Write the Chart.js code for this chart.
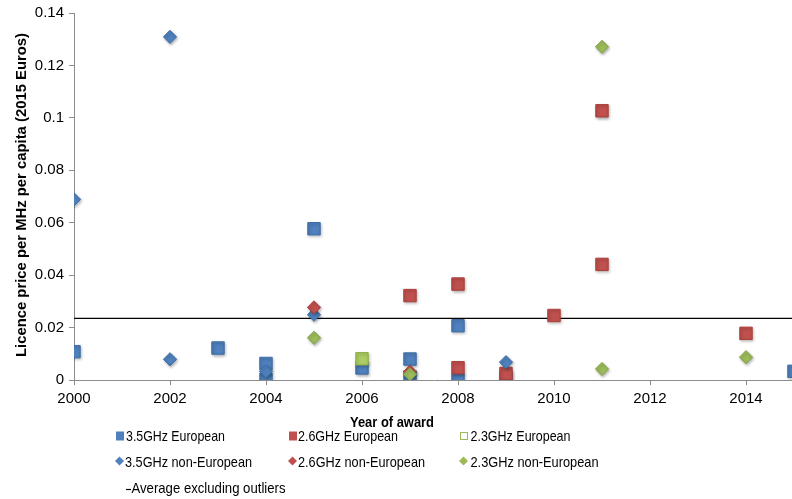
<!DOCTYPE html>
<html>
<head>
<meta charset="utf-8">
<script src="https://cdn.jsdelivr.net/npm/chart.js@4/dist/chart.umd.min.js"></script>
<style>
  html, body { margin: 0; padding: 0; background: #fff; overflow: hidden; }
  #wrap { width: 800px; height: 499px; position: relative; }
</style>
</head>
<body>
<div id="wrap"><canvas id="c"></canvas></div>
<script>
// Licence prices per MHz per capita (2015 Euros), by year of award
const eu35Years     = [2000, 2003, 2004, 2004, 2005, 2006, 2007, 2007, 2008, 2008, 2009, 2015];
const eu35Prices    = [0.0108, 0.0122, 0.0063, 0.0002, 0.0577, 0.0046, 0.0080, 0.0012, 0.0207, 0.0000, 0.0010, 0.0033];

const eu26Years     = [2007, 2008, 2008, 2009, 2010, 2011, 2011, 2014];
const eu26Prices    = [0.0322, 0.0366, 0.0047, 0.0025, 0.0246, 0.1027, 0.0441, 0.0178];

const eu23Years     = [2006];
const eu23Prices    = [0.0081];

const nonEu35Years  = [2000, 2002, 2002, 2004, 2005, 2009];
const nonEu35Prices = [0.0689, 0.1309, 0.0079, 0.0033, 0.0249, 0.0068];

const nonEu26Years  = [2005, 2007];
const nonEu26Prices = [0.0277, 0.0032];

const nonEu23Years  = [2005, 2007, 2011, 2011, 2014];
const nonEu23Prices = [0.0161, 0.0022, 0.1271, 0.0042, 0.0087];

// Average excluding outliers, drawn across the whole period
const avgYears  = [2000, 2015];
const avgPrices = [0.0235, 0.0235];

const seriesNames = ['3.5GHz European', '2.6GHz European', '2.3GHz European',
                     '3.5GHz non-European', '2.6GHz non-European', '2.3GHz non-European'];
const averageName = 'Average excluding outliers';

const yTickLabels = ['0', '0.02', '0.04', '0.06', '0.08', '0.1', '0.12', '0.14'];
const xTickLabels = ['2000', '2002', '2004', '2006', '2008', '2010', '2012', '2014'];

const yTitle = 'Licence price per MHz per capita (2015 Euros)';
const xTitle = 'Year of award';

const BLUE = '#4f81bd', RED = '#c0504d', GREEN = '#9bbb59', LIGHT_GREEN = '#abcd62';
const FONT = '"Liberation Sans", Arial, sans-serif';

function points(xs, ys) { return xs.map((x, i) => ({ x: x, y: ys[i] })); }

function squareSet(label, xs, ys, fill, edge, order) {
  return { label, data: points(xs, ys), pointStyle: 'rect', pointRadius: 8.8,
           backgroundColor: fill, borderColor: edge, borderWidth: 1, order };
}
function diamondSet(label, xs, ys, fill, edge, order) {
  return { label, data: points(xs, ys), pointStyle: 'rectRot', pointRadius: 6.6,
           backgroundColor: fill, borderColor: edge, borderWidth: 1, order };
}

// Soft drop shadow under the markers
const markerShadow = {
  id: 'markerShadow',
  beforeDatasetDraw(chart, args) {
    if (args.meta._dataset.showLine) return;
    const ctx = chart.ctx;
    ctx.save();
    ctx.shadowColor = 'rgba(0,0,0,0.30)';
    ctx.shadowBlur = 3;
    ctx.shadowOffsetX = 1;
    ctx.shadowOffsetY = 1.5;
  },
  afterDatasetDraw(chart, args) {
    if (args.meta._dataset.showLine) return;
    chart.ctx.restore();
  }
};

// Axis titles and the three-column legend below the plot
const annotations = {
  id: 'annotations',
  afterDraw(chart) {
    const ctx = chart.ctx;
    ctx.save();
    ctx.fillStyle = '#000';
    ctx.textBaseline = 'middle';

    // y axis title
    ctx.font = 'bold 15px ' + FONT;
    ctx.save();
    ctx.translate(22, 195);
    ctx.rotate(-Math.PI / 2);
    ctx.textAlign = 'center';
    ctx.fillText(yTitle, 0, 0, 324);
    ctx.restore();

    // x axis title
    ctx.textAlign = 'center';
    ctx.fillText(xTitle, 392, 423, 84);

    // legend
    ctx.font = '15px ' + FONT;
    ctx.textAlign = 'left';
    const markX = [120, 293, 464];
    const textX = [126, 298, 470.5];
    const widths = [[99, 100, 100], [127, 127, 128]];
    const rowY = [437, 463];
    const fills = [BLUE, RED, GREEN];
    for (let col = 0; col < 3; col++) {
      // squares: European series
      const sx = markX[col], sy = 436;
      if (col === 2) {
        ctx.fillStyle = '#fff';
        ctx.fillRect(sx - 4, sy - 4, 8, 8);
        ctx.strokeStyle = GREEN;
        ctx.lineWidth = 1;
        ctx.strokeRect(sx - 3.5, sy - 3.5, 7, 7);
      } else {
        ctx.fillStyle = fills[col];
        ctx.fillRect(sx - 4, sy - 4.5, 8, 9);
      }
      ctx.fillStyle = '#000';
      ctx.fillText(seriesNames[col], textX[col], rowY[0], widths[0][col]);

      // diamonds: non-European series
      const dx = markX[col] - 0.5, dy = 461;
      ctx.fillStyle = fills[col];
      ctx.beginPath();
      ctx.moveTo(dx, dy - 4.5);
      ctx.lineTo(dx + 4.5, dy);
      ctx.lineTo(dx, dy + 4.5);
      ctx.lineTo(dx - 4.5, dy);
      ctx.closePath();
      ctx.fill();
      ctx.fillStyle = '#000';
      ctx.fillText(seriesNames[col + 3], textX[col] - (col === 0 ? 1 : 0), rowY[1], widths[1][col]);
    }
    // average line sample
    ctx.strokeStyle = '#000';
    ctx.lineWidth = 1.2;
    ctx.beginPath();
    ctx.moveTo(126, 489.5);
    ctx.lineTo(131, 489.5);
    ctx.stroke();
    ctx.fillText(averageName, 131.5, 489, 154);
    ctx.restore();
  }
};

new Chart(document.getElementById('c'), {
  type: 'scatter',
  data: {
    datasets: [
      squareSet(seriesNames[0], eu35Years, eu35Prices, BLUE, '#3e6ea6', 6),
      squareSet(seriesNames[1], eu26Years, eu26Prices, RED, '#a8403d', 5),
      squareSet(seriesNames[2], eu23Years, eu23Prices, LIGHT_GREEN, '#8fb04a', 4),
      diamondSet(seriesNames[3], nonEu35Years, nonEu35Prices, BLUE, '#3e6ea6', 3),
      diamondSet(seriesNames[4], nonEu26Years, nonEu26Prices, RED, '#a8403d', 2),
      diamondSet(seriesNames[5], nonEu23Years, nonEu23Prices, GREEN, '#86a548', 1),
      { label: averageName, data: points(avgYears, avgPrices), showLine: true,
        borderColor: '#000', borderWidth: 1.3, pointRadius: 0, order: 10 }
    ]
  },
  options: {
    responsive: true,
    maintainAspectRatio: false,
    devicePixelRatio: 1,
    animation: false,
    events: [],
    layout: { autoPadding: false, padding: { left: 0, right: 6, top: 13, bottom: 0 } },
    plugins: { legend: { display: false }, tooltip: { enabled: false } },
    scales: {
      x: {
        type: 'linear', min: 2000, max: 2015,
        afterBuildTicks(s) { s.ticks = xTickLabels.map(v => ({ value: Number(v) })); },
        afterFit(s) { s.height = 119; s.paddingRight = 0; },
        ticks: { autoSkip: false, maxRotation: 0, padding: 5,
                 color: '#000', font: { family: FONT, size: 15 },
                 callback: (v, i) => xTickLabels[i] },
        grid: { drawOnChartArea: false, drawTicks: true, tickLength: 5, color: '#8c8c8c' },
        border: { color: '#8c8c8c', width: 1 }
      },
      y: {
        min: 0, max: 0.14,
        afterBuildTicks(s) { s.ticks = yTickLabels.map(v => ({ value: Number(v) })); },
        afterFit(s) { s.width = 74; s.paddingBottom = 0; s.paddingTop = 0; },
        ticks: { padding: 5, color: '#000', font: { family: FONT, size: 15 },
                 callback: (v, i) => yTickLabels[i] },
        grid: { drawOnChartArea: false, drawTicks: true, tickLength: 5, color: '#8c8c8c' },
        border: { color: '#8c8c8c', width: 1 }
      }
    }
  },
  plugins: [markerShadow, annotations]
});
</script>
</body>
</html>
